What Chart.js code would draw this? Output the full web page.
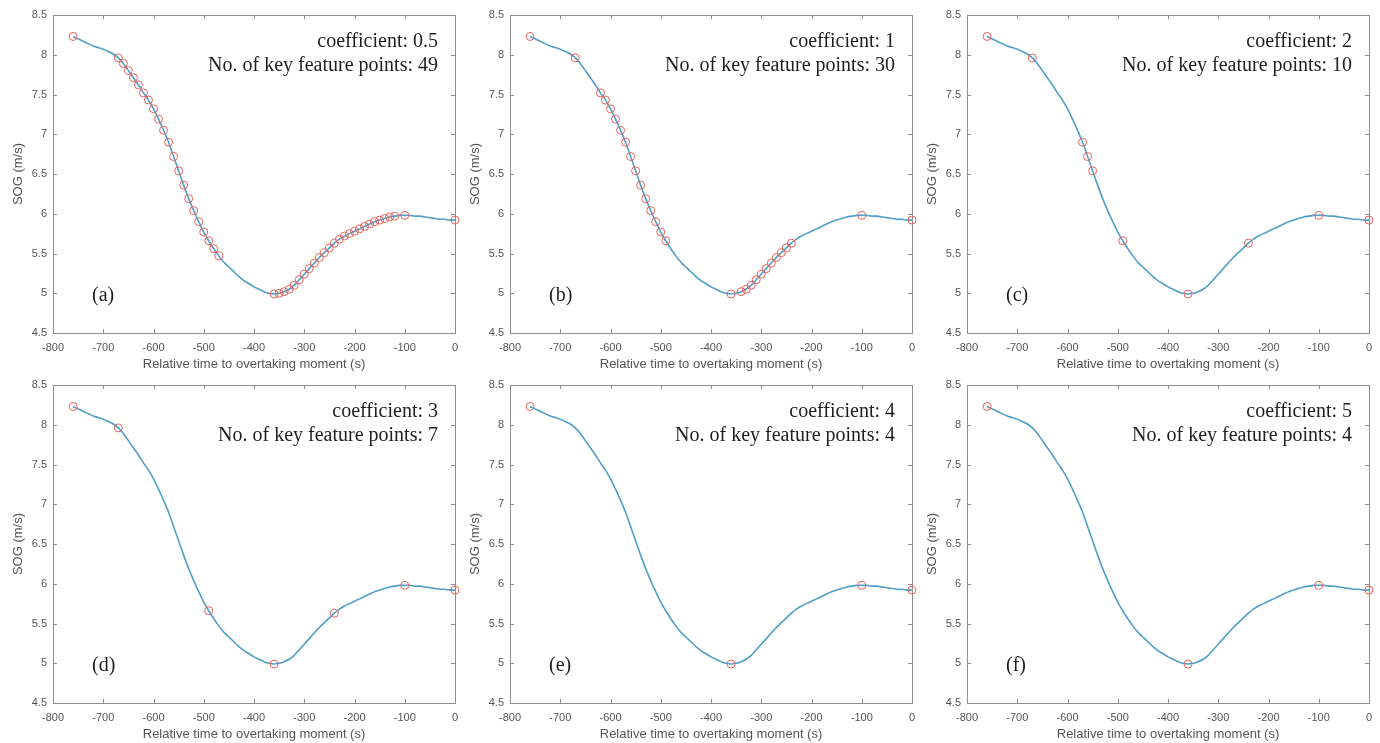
<!DOCTYPE html>
<html>
<head>
<meta charset="utf-8">
<script src="https://cdn.jsdelivr.net/npm/chart.js@4"></script>
<style>
  html, body { margin: 0; padding: 0; background: #fff; }
  body { width: 1380px; height: 743px; position: relative; overflow: hidden; }
  .panel { position: absolute; width: 470px; height: 372px; }
  .panel canvas { display: block; }
</style>
</head>
<body>
<div class="panel" style="left:0px;top:0px"><canvas id="pa" width="470" height="372"></canvas></div>
<div class="panel" style="left:457px;top:0px"><canvas id="pb" width="470" height="372"></canvas></div>
<div class="panel" style="left:914px;top:0px"><canvas id="pc" width="470" height="372"></canvas></div>
<div class="panel" style="left:0px;top:370px"><canvas id="pd" width="470" height="372"></canvas></div>
<div class="panel" style="left:457px;top:370px"><canvas id="pe" width="470" height="372"></canvas></div>
<div class="panel" style="left:914px;top:370px"><canvas id="pf" width="470" height="372"></canvas></div>
<script>
// time before the overtaking moment (s), one sample every 10 s
var times = [-760, -750, -740, -730, -720, -710, -700, -690, -680, -670,
             -660, -650, -640, -630, -620, -610, -600, -590, -580, -570,
             -560, -550, -540, -530, -520, -510, -500, -490, -480, -470,
             -460, -450, -440, -430, -420, -410, -400, -390, -380, -370,
             -360, -350, -340, -330, -320, -310, -300, -290, -280, -270,
             -260, -250, -240, -230, -220, -210, -200, -190, -180, -170,
             -160, -150, -140, -130, -120, -110, -100, -90, -80, -70,
             -60, -50, -40, -30, -20, -10, 0];

// speed over ground (m/s)
var sog = [8.23, 8.20, 8.17, 8.14, 8.11, 8.09, 8.07, 8.04, 8.01, 7.96,
           7.89, 7.80, 7.71, 7.62, 7.52, 7.43, 7.32, 7.19, 7.05, 6.90,
           6.72, 6.54, 6.36, 6.19, 6.04, 5.90, 5.77, 5.66, 5.56, 5.47,
           5.39, 5.33, 5.27, 5.21, 5.16, 5.12, 5.08, 5.05, 5.02, 5.00,
           4.99, 5.00, 5.02, 5.05, 5.10, 5.17, 5.24, 5.31, 5.38, 5.45,
           5.51, 5.57, 5.63, 5.68, 5.72, 5.75, 5.78, 5.81, 5.84, 5.87,
           5.90, 5.92, 5.94, 5.96, 5.97, 5.98, 5.98, 5.98, 5.97, 5.97,
           5.96, 5.95, 5.94, 5.93, 5.93, 5.92, 5.92];

var xTicks = [-800, -700, -600, -500, -400, -300, -200, -100, 0];
var yTicks = [4.5, 5, 5.5, 6, 6.5, 7, 7.5, 8, 8.5];

var panelIds = ['pa', 'pb', 'pc', 'pd', 'pe', 'pf'];
var panelTags = ['(a)', '(b)', '(c)', '(d)', '(e)', '(f)'];
var coefficients = ['0.5', '1', '2', '3', '4', '5'];

// key feature points kept for each coefficient
var keyTimesA = [-760, -670, -660, -650, -640, -630, -620, -610, -600, -590,
                 -580, -570, -560, -550, -540, -530, -520, -510, -500, -490,
                 -480, -470, -360, -350, -340, -330, -320, -310, -300, -290,
                 -280, -270, -260, -250, -240, -230, -220, -210, -200, -190,
                 -180, -170, -160, -150, -140, -130, -120, -100, 0];
var keyTimesB = [-760, -670, -620, -610, -600, -590, -580, -570, -560, -550,
                 -540, -530, -520, -510, -500, -490, -360, -340, -330, -320,
                 -310, -300, -290, -280, -270, -260, -250, -240, -100, 0];
var keyTimesC = [-760, -670, -570, -560, -550, -490, -360, -240, -100, 0];
var keyTimesD = [-760, -670, -490, -360, -240, -100, 0];
var keyTimesE = [-760, -360, -100, 0];
var keyTimesF = [-760, -360, -100, 0];
var keyTimes = [keyTimesA, keyTimesB, keyTimesC, keyTimesD, keyTimesE, keyTimesF];

Chart.defaults.font.family = '"Liberation Sans", Arial, sans-serif';
Chart.defaults.color = '#555555';

var axisGrey = '#8e8e8e';

// MATLAB-like box with inward tick marks on all four sides
var boxPlugin = {
  id: 'box',
  beforeDatasetsDraw: function(chart) {
    var a = chart.chartArea, ctx = chart.ctx;
    var xs = chart.scales.x, ys = chart.scales.y;
    ctx.save();
    ctx.strokeStyle = axisGrey;
    ctx.lineWidth = 1;
    ctx.strokeRect(Math.round(a.left) + 0.5, Math.round(a.top) + 0.5,
                   Math.round(a.right - a.left), Math.round(a.bottom - a.top));
    ctx.beginPath();
    xTicks.forEach(function(t) {
      var px = Math.round(xs.getPixelForValue(t)) + 0.5;
      ctx.moveTo(px, a.bottom); ctx.lineTo(px, a.bottom - 4);
      ctx.moveTo(px, a.top); ctx.lineTo(px, a.top + 4);
    });
    yTicks.forEach(function(v) {
      var py = Math.round(ys.getPixelForValue(v)) + 0.5;
      ctx.moveTo(a.left, py); ctx.lineTo(a.left + 4, py);
      ctx.moveTo(a.right, py); ctx.lineTo(a.right - 4, py);
    });
    ctx.stroke();
    ctx.restore();
  },
  afterDatasetsDraw: function(chart) {
    var a = chart.chartArea, ctx = chart.ctx;
    var o = chart.options.plugins.box;
    ctx.save();
    ctx.fillStyle = '#1e1e1e';
    ctx.font = '20px "Liberation Serif", "Times New Roman", serif';
    ctx.textBaseline = 'middle';
    ctx.textAlign = 'right';
    ctx.fillText('coefficient: ' + o.coef, a.right - 17, a.top + 27);
    ctx.fillText('No. of key feature points: ' + o.count, a.right - 17, a.top + 51);
    ctx.textAlign = 'left';
    ctx.fillText(o.tag, a.left + 39, a.top + 281);
    ctx.restore();
  }
};

function sogAt(t) {
  return sog[times.indexOf(t)];
}

panelIds.forEach(function(id, i) {
  var curve = times.map(function(t, k) { return { x: t, y: sog[k] }; });
  var keys = keyTimes[i].map(function(t) { return { x: t, y: sogAt(t) }; });

  new Chart(document.getElementById(id), {
    type: 'line',
    data: {
      datasets: [{
        data: keys,
        showLine: false,
        pointRadius: 4,
        pointBorderWidth: 1,
        pointBackgroundColor: 'rgba(0,0,0,0)',
        pointBorderColor: '#e5625a',
        clip: false,
        order: 0
      }, {
        data: curve,
        borderColor: '#4f9fc8',
        borderWidth: 1.6,
        pointRadius: 0,
        tension: 0.3,
        order: 1
      }]
    },
    options: {
      responsive: false,
      animation: false,
      events: [],
      layout: { padding: { top: 15, right: 15, bottom: 0, left: 0 } },
      plugins: {
        legend: { display: false },
        tooltip: { enabled: false },
        box: { coef: coefficients[i], count: keyTimes[i].length, tag: panelTags[i] }
      },
      scales: {
        x: {
          type: 'linear', min: -800, max: 0,
          afterBuildTicks: function(s) { s.ticks = xTicks.map(function(v) { return { value: v }; }); },
          afterFit: function(s) { s.height = 39; },
          grid: { display: false, drawTicks: false },
          border: { display: false },
          ticks: { font: { size: 11 }, padding: 8, maxRotation: 0, autoSkip: false,
                   callback: function(v) { return String(v); } },
          title: { display: true, text: 'Relative time to overtaking moment (s)',
                   font: { size: 13 }, padding: { top: 0, bottom: 0 } }
        },
        y: {
          type: 'linear', min: 4.5, max: 8.5,
          afterBuildTicks: function(s) { s.ticks = yTicks.map(function(v) { return { value: v }; }); },
          afterFit: function(s) { s.width = 53; },
          grid: { display: false, drawTicks: false },
          border: { display: false },
          ticks: { font: { size: 11 }, padding: 6, autoSkip: false,
                   callback: function(v) { return String(v); } },
          title: { display: true, text: 'SOG (m/s)',
                   font: { size: 13 }, padding: { top: 11, bottom: 0 } }
        }
      }
    },
    plugins: [boxPlugin]
  });
});
</script>
</body>
</html>
